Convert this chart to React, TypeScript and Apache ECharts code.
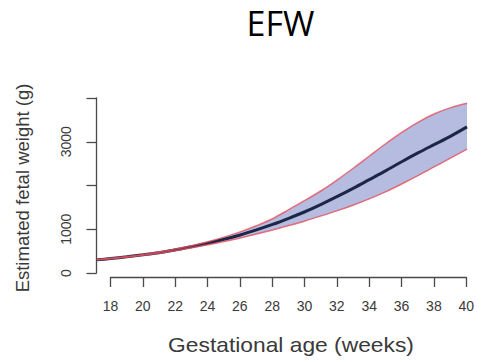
import React, { useEffect, useRef } from "react";
import * as echarts from "echarts";

const weeks = [17.1, 18, 19, 20, 21, 22, 23, 24, 25, 26, 27, 28, 29, 30, 31, 32, 33, 34, 35, 36, 37, 38, 39, 40];
const median = [300, 330, 370, 415, 465, 530, 600, 680, 770, 870, 985, 1110, 1250, 1400, 1570, 1750, 1940, 2140, 2340, 2550, 2750, 2940, 3130, 3340];
const upper = [302, 335, 378, 425, 480, 548, 625, 715, 820, 940, 1080, 1240, 1450, 1660, 1880, 2130, 2400, 2680, 2960, 3220, 3450, 3640, 3780, 3880];
const lower = [298, 325, 362, 405, 450, 510, 575, 645, 720, 800, 890, 985, 1085, 1190, 1305, 1425, 1555, 1700, 1860, 2040, 2230, 2430, 2630, 2830];
const yTickLabels = [0, 1000, 3000];

const AXIS = "#4a4a4a";
const LABEL = "#3a3a3a";
const FONT = "Liberation Sans";

export default function App() {
  const ref = useRef<HTMLDivElement>(null);
  useEffect(() => {
    if (!ref.current) return;
    const chart = echarts.init(ref.current, undefined, { renderer: "svg" });
    const pair = (ys: number[]) => weeks.map((w, i) => [w, ys[i]]);
    chart.setOption({
      animation: false,
      backgroundColor: "#ffffff",
      graphic: [
        {
          type: "text",
          x: 280.5,
          y: 23,
          style: {
            text: "EFW",
            font: "34px 'Open Sans'",
            fill: "#000000",
            textAlign: "center",
            textVerticalAlign: "middle",
          },
        },
        {
          type: "text",
          x: 291,
          y: 345,
          scaleX: 1.14,
          style: {
            text: "Gestational age (weeks)",
            font: `20px '${FONT}'`,
            fill: LABEL,
            textAlign: "center",
            textVerticalAlign: "middle",
          },
        },
        {
          type: "text",
          x: 22,
          y: 188,
          rotation: Math.PI / 2,
          style: {
            text: "Estimated fetal weight (g)",
            font: `18.5px '${FONT}'`,
            fill: LABEL,
            textAlign: "center",
            textVerticalAlign: "middle",
          },
        },
      ],
      grid: [
        { left: 96, right: 10, top: 98, bottom: 89 },
        { left: 110.5, right: 10, top: 98, bottom: 85 },
        { left: 96.5, right: 10, top: 98, bottom: 89 },
      ],
      xAxis: [
        { gridIndex: 0, type: "value", min: 17.1, max: 40, show: false },
        {
          gridIndex: 1,
          type: "value",
          min: 18,
          max: 40,
          interval: 2,
          z: 10,
          axisLine: { show: true, lineStyle: { color: AXIS, width: 1.3 } },
          axisTick: { show: true, length: 10, lineStyle: { color: AXIS, width: 1.3 } },
          axisLabel: { color: LABEL, fontFamily: FONT, fontSize: 14, margin: 22 },
          splitLine: { show: false },
        },
        { gridIndex: 2, type: "value", min: 0, max: 1, show: false },
      ],
      yAxis: [
        { gridIndex: 0, type: "value", min: 0, max: 4000, show: false },
        { gridIndex: 1, type: "value", min: 0, max: 1, show: false },
        {
          gridIndex: 2,
          type: "value",
          min: 0,
          max: 4000,
          interval: 1000,
          z: 10,
          axisLine: { show: true, lineStyle: { color: AXIS, width: 1.3 } },
          axisTick: { show: true, length: 10, lineStyle: { color: AXIS, width: 1.3 } },
          axisLabel: {
            color: LABEL,
            fontFamily: FONT,
            fontSize: 14,
            rotate: 90,
            margin: 24,
            formatter: (v: number) => (yTickLabels.includes(v) ? String(v) : ""),
          },
          splitLine: { show: false },
        },
      ],
      series: [
        {
          type: "line",
          xAxisIndex: 0,
          yAxisIndex: 0,
          data: pair(upper),
          smooth: 0.3,
          symbol: "none",
          z: 1,
          lineStyle: { opacity: 0 },
          areaStyle: { color: "#b5bce0", opacity: 1, origin: "start" },
        },
        {
          type: "line",
          xAxisIndex: 0,
          yAxisIndex: 0,
          data: pair(lower),
          smooth: 0.3,
          symbol: "none",
          z: 1,
          lineStyle: { opacity: 0 },
          areaStyle: { color: "#ffffff", opacity: 1, origin: "start" },
        },
        {
          type: "line",
          xAxisIndex: 0,
          yAxisIndex: 0,
          data: pair(median),
          smooth: 0.3,
          symbol: "none",
          z: 3,
          lineStyle: { color: "#1c2647", width: 3 },
        },
        {
          type: "line",
          xAxisIndex: 0,
          yAxisIndex: 0,
          data: pair(upper),
          smooth: 0.3,
          symbol: "none",
          z: 4,
          lineStyle: { color: "#e2505e", width: 1.5, opacity: 0.8 },
        },
        {
          type: "line",
          xAxisIndex: 0,
          yAxisIndex: 0,
          data: pair(lower),
          smooth: 0.3,
          symbol: "none",
          z: 4,
          lineStyle: { color: "#e2505e", width: 1.5, opacity: 0.8 },
        },
      ],
    });
    return () => chart.dispose();
  }, []);
  return (
    <div
      ref={ref}
      style={{ position: "absolute", left: 0, top: 0, width: 477, height: 362 }}
    />
  );
}
